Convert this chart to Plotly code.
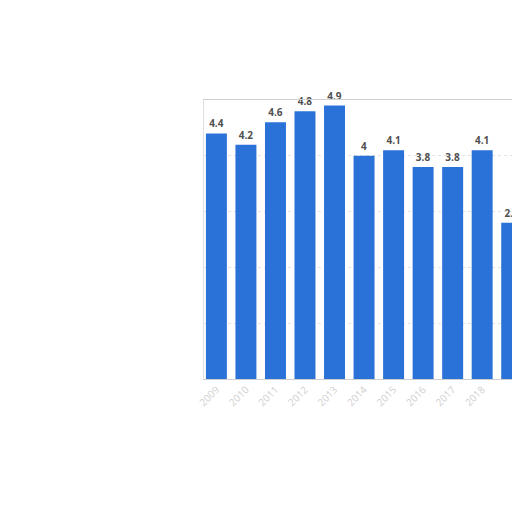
import plotly.graph_objects as go

years = ["2009", "2010", "2011", "2012", "2013", "2014", "2015", "2016", "2017", "2018", "2019"]
values = [4.4, 4.2, 4.6, 4.8, 4.9, 4.0, 4.1, 3.8, 3.8, 4.1, 2.8]
labels = ["4.4", "4.2", "4.6", "4.8", "4.9", "4", "4.1", "3.8", "3.8", "4.1", "2.8"]

x_idx = list(range(len(years)))

fig = go.Figure(
    go.Bar(
        x=x_idx,
        y=values,
        text=labels,
        textposition="outside",
        textfont=dict(family="Open Sans, Arial, sans-serif", size=10, color="#505050", weight=700),
        cliponaxis=False,
        marker=dict(color="#2a72d8", line=dict(width=0)),
        width=0.71,
    )
)

fig.update_layout(
    width=512,
    height=512,
    margin=dict(l=204, r=0, t=100, b=133, autoexpand=False),
    paper_bgcolor="white",
    plot_bgcolor="white",
    showlegend=False,
    font=dict(family="Open Sans, Arial, sans-serif"),
)

fig.update_xaxes(
    range=[-0.42, 10.01],
    automargin=False,
    tickmode="array",
    tickvals=x_idx,
    ticktext=years,
    tickangle=-45,
    tickfont=dict(size=10, color="#d0d0d0"),
    showgrid=False,
    showline=True,
    linecolor="#cfcfcf",
    linewidth=1,
    mirror=True,
    ticks="",
)

fig.update_yaxes(
    range=[0, 5.0],
    automargin=False,
    dtick=1,
    showgrid=True,
    gridcolor="#e2e2e2",
    griddash="dot",
    gridwidth=1,
    showticklabels=False,
    showline=True,
    linecolor="#e0e0e0",
    zeroline=False,
)

fig.write_html(
    "out.html",
    config={"displayModeBar": False},
    post_script="document.body.style.margin='0';document.body.style.overflow='hidden';",
)
